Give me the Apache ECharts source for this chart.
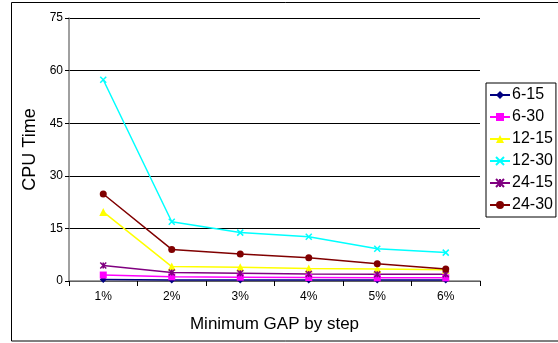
<!DOCTYPE html>
<html>
<head>
<meta charset="utf-8">
<script src="https://cdn.jsdelivr.net/npm/echarts@6/dist/echarts.min.js"></script>
<style>
  html, body { margin: 0; padding: 0; background: #fff; }
  #chart { width: 558px; height: 343px; }
</style>
</head>
<body>
<div id="chart"></div>
<script>
// Minimum GAP steps along the category axis
var categories = ['1%', '2%', '3%', '4%', '5%', '6%'];

// CPU time per configuration
var s6_15  = [0.4, 0.3, 0.3, 0.3, 0.3, 0.3];
var s6_30  = [1.7, 1.2, 1.1, 1.0, 0.9, 0.9];
var s12_15 = [19.7, 4.1, 3.9, 3.6, 3.4, 3.2];
var s12_30 = [57.4, 16.9, 13.8, 12.6, 9.2, 8.1];
var s24_15 = [4.4, 2.4, 2.2, 2.0, 1.9, 1.9];
var s24_30 = [24.8, 9.0, 7.7, 6.6, 4.9, 3.4];

var yTicks = { min: 0, max: 75, interval: 15 };

var crossPath = 'path://M0,0 L10,10 M10,0 L0,10';
var starPath = 'path://M0,0 L10,10 M10,0 L0,10 M5,0 L5,10';

var FONT = '"Liberation Sans", Arial, sans-serif';

function makeSeries(name, data, color, symbol, size, hollowStroke) {
  return {
    name: name,
    type: 'line',
    data: data,
    symbol: symbol,
    symbolSize: size,
    showAllSymbol: true,
    lineStyle: { color: color, width: 1.5 },
    itemStyle: hollowStroke
      ? { color: color, borderColor: color, borderWidth: 1.5 }
      : { color: color, borderWidth: 0 },
    emphasis: { disabled: true },
    animation: false
  };
}

var chart = echarts.init(document.getElementById('chart'), null, { renderer: 'canvas' });
chart.setOption({
  animation: false,
  backgroundColor: '#ffffff',
  textStyle: { fontFamily: FONT },
  graphic: [{
    type: 'rect',
    shape: { x: 11.5, y: 2.5, width: 560, height: 338.5 },
    style: { fill: 'none', stroke: '#000', lineWidth: 1 },
    silent: true,
    z: -1
  }],
  grid: { left: 69, right: 78, top: 18, bottom: 62, containLabel: false },
  legend: {
    orient: 'vertical',
    left: 486,
    top: 83,
    padding: [4, 3, 4, 3],
    itemGap: 6,
    itemWidth: 20,
    itemHeight: 10,
    borderColor: '#000',
    borderWidth: 1,
    backgroundColor: '#fff',
    textStyle: { fontFamily: FONT, fontSize: 16, color: '#000', padding: [0, 0, 0, -3] },
    data: ['6-15', '6-30', '12-15', '12-30', '24-15', '24-30']
  },
  xAxis: {
    type: 'category',
    data: categories,
    boundaryGap: true,
    name: 'Minimum GAP by step',
    nameLocation: 'middle',
    nameGap: 35,
    nameTextStyle: { fontFamily: FONT, fontSize: 17, color: '#000' },
    axisLine: { lineStyle: { color: '#808080', width: 1.5 } },
    axisTick: { show: true, length: 5, lineStyle: { color: '#000' } },
    axisLabel: { fontFamily: FONT, fontSize: 12, color: '#000', margin: 10 },
    splitLine: { show: false }
  },
  yAxis: {
    type: 'value',
    min: yTicks.min,
    max: yTicks.max,
    interval: yTicks.interval,
    name: 'CPU Time',
    nameLocation: 'middle',
    nameGap: 30,
    nameTextStyle: { fontFamily: FONT, fontSize: 18, color: '#000' },
    axisLine: { show: true, lineStyle: { color: '#808080', width: 1.5 } },
    axisTick: { show: true, length: 4, lineStyle: { color: '#000' } },
    axisLabel: { fontFamily: FONT, fontSize: 12, color: '#000', margin: 6 },
    splitLine: { show: true, lineStyle: { color: '#000', width: 1 } }
  },
  series: [
    makeSeries('6-15', s6_15, '#000080', 'diamond', 7),
    makeSeries('6-30', s6_30, '#FF00FF', 'rect', 7),
    makeSeries('12-15', s12_15, '#FFFF00', 'triangle', 8),
    makeSeries('12-30', s12_30, '#00FFFF', crossPath, 6, true),
    makeSeries('24-15', s24_15, '#800080', starPath, 6, true),
    makeSeries('24-30', s24_30, '#800000', 'circle', 7)
  ]
});
</script>
</body>
</html>
